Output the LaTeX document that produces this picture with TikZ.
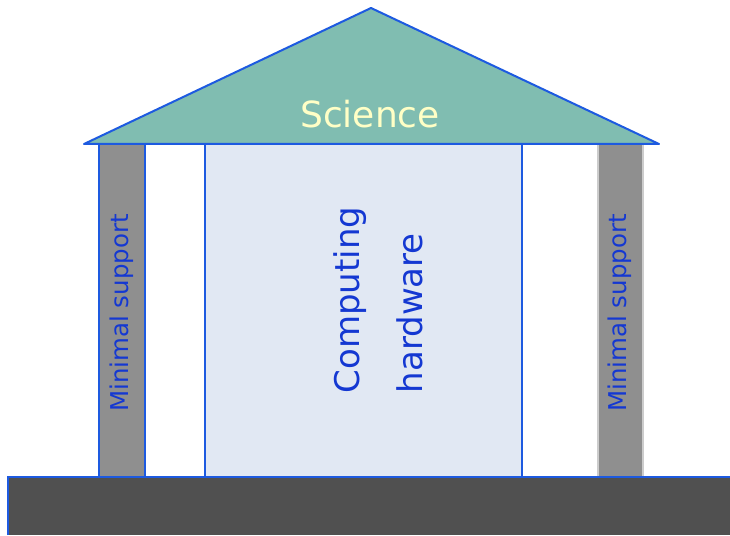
\documentclass[tikz,border=0pt]{standalone}
\usepackage{fontspec}
\setmainfont{DejaVu Sans}
\definecolor{roofteal}{HTML}{80BDB1}
\definecolor{pillargray}{HTML}{8F8F8F}
\definecolor{hallblue}{HTML}{E1E8F3}
\definecolor{groundgray}{HTML}{505050}
\definecolor{edgeblue}{HTML}{1D5AE0}
\definecolor{textblue}{HTML}{1438D2}
\definecolor{sciencecream}{HTML}{FFFFC6}
\begin{document}
\begin{tikzpicture}[x=1pt, y=1pt]
                \useasboundingbox (0,0) rectangle (730,535);
                \tikzset{
                    edge/.style = {draw = edgeblue, line width = 2pt},
                    label/.style = {text = textblue, inner sep = 0pt}
                }

                % corners of the building
                \node (L) at (84,391) {};
                \node (T) at (371,527) {};
                \node (R) at (659,391) {};
                \node (G) at (8,58) {};

                % ground
                \fill[groundgray] (G.center |- 0,0) rectangle (730,58);
                \draw[edge] (G.center |- 0,0) -- (G.center) -- (730,58);

                % pillars and the hall
                \draw[edge, fill = pillargray] (99,58) rectangle (145,391);
                \draw[edge, fill = hallblue] (205,58) rectangle (522,391);
                \draw[line width = 2pt, draw = gray!40, fill = pillargray] (598,58) rectangle (643,391);
                \draw[edge] (G.center) -- (730,58);

                % roof
                \draw[edge, fill = roofteal, line join = round] (L.center) -- (T.center) -- (R.center) -- cycle;

                \node[anchor = base, text = sciencecream, inner sep = 0pt, font = \fontsize{36}{40}\selectfont] (science) at (370,407) {Science};

                \node[label, rotate = 90, font = \fontsize{24.5}{28}\selectfont] (leftsupport) at (122,222) {Minimal support};
                \node[label, rotate = 90, font = \fontsize{24.5}{28}\selectfont] (rightsupport) at (620,222) {Minimal support};

                \node[label, rotate = 90, align = left, font = \fontsize{34}{63}\selectfont] (hardware) at (378,235) {Computing\\hardware};
            \end{tikzpicture}
\end{document}
